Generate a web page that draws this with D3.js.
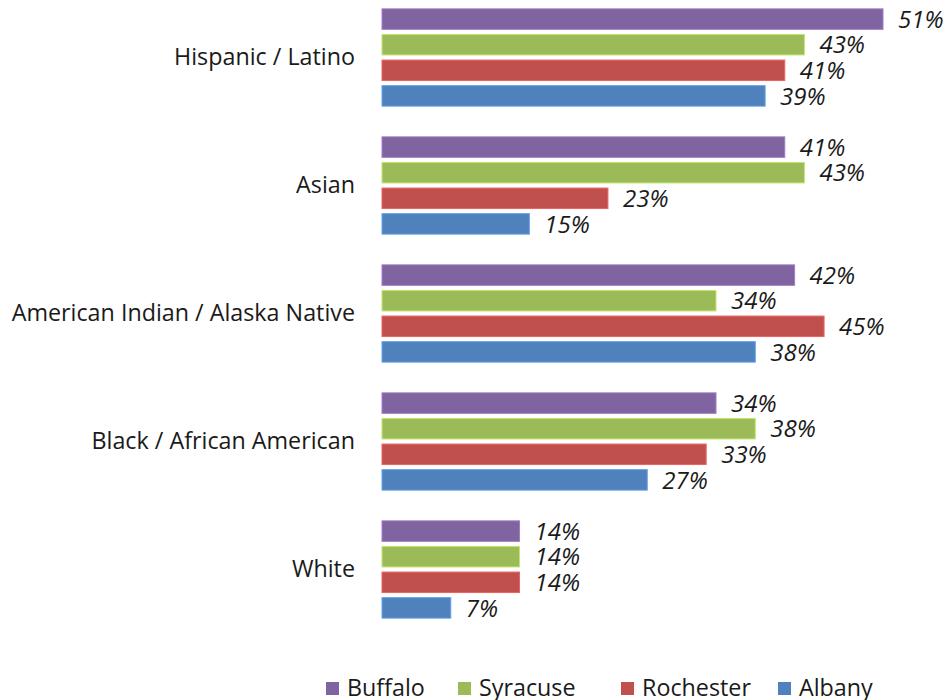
<!DOCTYPE html>
<html>
<head>
<meta charset="utf-8">
<script src="https://cdn.jsdelivr.net/npm/d3@7"></script>
<style>
  body { margin: 0; background: #fff; }
  svg text { font-family: "Open Sans", sans-serif; fill: #1a1a1a; }
</style>
</head>
<body>
<div id="chart"></div>
<script>
'use strict';

const WIDTH = 949;
const HEIGHT = 700;

const categories = ['Hispanic / Latino', 'Asian', 'American Indian / Alaska Native', 'Black / African American', 'White'];
const series = ['Buffalo', 'Syracuse', 'Rochester', 'Albany'];
const colors = ['#8064A2', '#9BBB59', '#C0504D', '#4F81BD'];

// percent per category, in series order
const buffalo   = [51, 41, 42, 34, 14];
const syracuse  = [43, 43, 34, 38, 14];
const rochester = [41, 23, 45, 33, 14];
const albany    = [39, 15, 38, 27, 7];

const values = [buffalo, syracuse, rochester, albany];

var rows = [];
categories.forEach(function(c, i) {
  series.forEach(function(s, j) {
    rows.push({cat: c, series: s, value: values[j][i]});
  });
});

var svg = d3.select('#chart').append('svg')
  .attr('width', WIDTH)
  .attr('height', HEIGHT);

var x = d3.scaleLinear()
  .domain([0, 51])
  .range([382, 883]);

var y = d3.scaleBand()
  .domain(categories)
  .range([-6.5, 633.5])
  .paddingInner(0.2)
  .paddingOuter(0.1);

var ySub = d3.scaleBand()
  .domain(series)
  .range([0, y.bandwidth()])
  .paddingInner(0.2)
  .paddingOuter(0.1);

var color = d3.scaleOrdinal()
  .domain(series)
  .range(colors);

// category labels
var yAxis = d3.axisLeft(y)
  .tickSize(0)
  .tickPadding(27);

svg.append('g')
  .attr('transform', 'translate(' + x(0) + ',0)')
  .call(yAxis)
  .call(g => g.select('.domain').remove())
  .selectAll('text')
    .style('font-family', '"Open Sans", sans-serif')
    .style('font-size', '23.3px')
    .attr('fill', '#1a1a1a');

var bars = svg.append('g')
  .selectAll('g')
  .data(rows)
  .enter()
  .append('g')
  .attr('transform', d => 'translate(0,' + (y(d.cat) + ySub(d.series)) + ')');

bars.append('rect')
  .attr('x', x(0))
  .attr('y', 0)
  .attr('width', d => x(d.value) - x(0))
  .attr('height', ySub.bandwidth())
  .style('fill', d => color(d.series))
  .style('stroke', d => d3.color(color(d.series)).brighter(0.6))
  .style('stroke-width', 1);

bars.append('text')
  .attr('x', d => x(d.value) + 15)
  .attr('y', ySub.bandwidth() / 2)
  .attr('dy', '0.36em')
  .style('font-size', '24px')
  .style('font-style', 'italic')
  .text(d => d.value + '%');

// legend
var legendX = [326, 458, 621, 778];

var legend = svg.append('g')
  .selectAll('g')
  .data(series)
  .enter()
  .append('g')
  .attr('transform', (d, i) => 'translate(' + legendX[i] + ',682)');

legend.append('rect')
  .attr('width', 13)
  .attr('height', 13)
  .style('fill', d => color(d));

legend.append('text')
  .attr('x', 21)
  .attr('y', 14)
  .style('font-size', '23.3px')
  .text(d => d);
</script>
</body>
</html>
